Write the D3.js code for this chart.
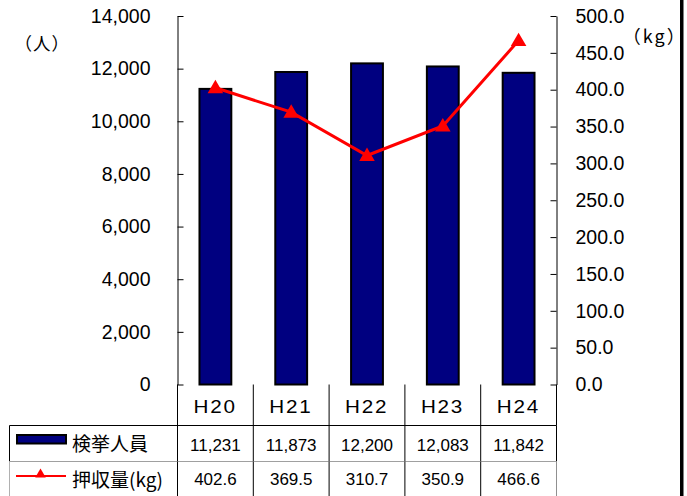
<!DOCTYPE html>
<html><head><meta charset="utf-8">
<script src="https://cdn.jsdelivr.net/npm/d3@7"></script>
<style>
html,body{margin:0;padding:0;background:#fff;}
svg{display:block;}
</style></head>
<body>
<svg id="chart" width="687" height="496"></svg>
<script>
// ---- data ----
const categories = ["H20", "H21", "H22", "H23", "H24"];
const arrests = [11231, 11873, 12200, 12083, 11842];       // 検挙人員 (人)
const seizures = [402.6, 369.5, 310.7, 350.9, 466.6];      // 押収量 (kg)
const leftTicks = [0, 2000, 4000, 6000, 8000, 10000, 12000, 14000];
const rightTicks = [0, 50, 100, 150, 200, 250, 300, 350, 400, 450, 500];
const seriesNames = ["検挙人員", "押収量(kg)"];
const unitLeft = "（人）";
const unitRight = "（kg）";

// ---- layout ----
const svg = d3.select("#chart");
const L = 177.5, R = 556.5, T = 16, B = 384.5;
const tableLeft = 9.5, row1B = 425.5, row2B = 461.5, H = 496;
const latin = "'Liberation Sans', Arial, sans-serif";
const cjk = "'Noto Sans CJK JP', sans-serif";

const x = d3.scaleBand().domain(categories).range([L, R]).padding(0);
const yL = d3.scaleLinear().domain([0, 14000]).range([B, T]);
const yR = d3.scaleLinear().domain([0, 500]).range([B, T]);
const barW = x.bandwidth() * 0.42;

// right black border
svg.append("rect").attr("x", 680).attr("y", 0).attr("width", 3.5).attr("height", H).attr("fill", "#000");

// bars
svg.append("g").selectAll("rect").data(arrests).join("rect")
  .attr("x", (d, i) => x(categories[i]) + x.bandwidth() / 2 - barW / 2)
  .attr("y", d => yL(d))
  .attr("width", barW)
  .attr("height", d => B - yL(d))
  .attr("fill", "#000080")
  .attr("stroke", "#000")
  .attr("stroke-width", 2);

// axes
const axL = svg.append("g").attr("transform", `translate(${L},0)`)
  .call(d3.axisLeft(yL).tickValues(leftTicks).tickFormat(d3.format(",")).tickSizeInner(-6).tickSizeOuter(0).tickPadding(27));
const axR = svg.append("g").attr("transform", `translate(${R},0)`)
  .call(d3.axisRight(yR).tickValues(rightTicks).tickFormat(d3.format(".1f")).tickSizeInner(-6).tickSizeOuter(0).tickPadding(19));
[axL, axR].forEach(a => {
  a.selectAll("path,line").attr("stroke", "#000").attr("stroke-width", 1);
  a.selectAll("text").attr("font-family", latin).attr("font-size", 19.5).attr("fill", "#000");
});

// line series
const cx = (i) => x(categories[i]) + x.bandwidth() / 2;
svg.append("path")
  .datum(seizures)
  .attr("d", d3.line().x((d, i) => cx(i)).y(d => yR(d)))
  .attr("fill", "none").attr("stroke", "#ff0000").attr("stroke-width", 3);
svg.append("g").selectAll("path").data(seizures).join("path")
  .attr("transform", (d, i) => `translate(${cx(i)},${yR(d) + 1})`)
  .attr("d", d3.symbol(d3.symbolTriangle, 105))
  .attr("fill", "#ff0000");

// unit labels
svg.append("text").attr("x", 14.5).attr("y", 49.5).attr("font-family", cjk).attr("font-size", 17.5)
  .attr("letter-spacing", 1).text(unitLeft);
svg.append("text").attr("x", 622.8).attr("y", 43).attr("font-family", cjk).attr("font-size", 18)
  .attr("letter-spacing", 2).text(unitRight);

// ---- data table ----
const g = svg.append("g");
const bounds = categories.map(c => x(c)).concat([R]);
// category row verticals
bounds.forEach(b => g.append("line").attr("x1", b).attr("x2", b).attr("y1", B).attr("y2", row1B).attr("stroke", "#000"));
// row 2 lines
g.append("line").attr("x1", tableLeft).attr("x2", R).attr("y1", row1B).attr("y2", row1B).attr("stroke", "#000");
g.append("line").attr("x1", tableLeft).attr("x2", tableLeft).attr("y1", row1B).attr("y2", row2B).attr("stroke", "#000");
bounds.forEach(b => g.append("line").attr("x1", b).attr("x2", b).attr("y1", row1B).attr("y2", row2B).attr("stroke", "#000"));
// row 3 lines
g.append("line").attr("x1", tableLeft).attr("x2", R).attr("y1", row2B).attr("y2", row2B).attr("stroke", "#a0a0a0");
g.append("line").attr("x1", tableLeft).attr("x2", tableLeft).attr("y1", row2B).attr("y2", H).attr("stroke", "#b0b0b0");
bounds.forEach((b, i) => g.append("line").attr("x1", b).attr("x2", b).attr("y1", row2B).attr("y2", H)
  .attr("stroke", i === bounds.length - 1 ? "#909090" : "#000"));

// category labels
g.selectAll("text.cat").data(categories).join("text").attr("class", "cat")
  .attr("transform", d => `translate(${x(d) + x.bandwidth() / 2 - 0.3},412.7) scale(1.18,1)`)
  .attr("text-anchor", "middle")
  .attr("font-family", latin).attr("font-size", 17.5)
  .attr("letter-spacing", 1.5)
  .text(d => d);
// values
g.selectAll("text.v1").data(arrests).join("text").attr("class", "v1")
  .attr("x", (d, i) => cx(i)).attr("y", 450.8)
  .attr("text-anchor", "middle").attr("font-family", latin).attr("font-size", 17)
  .text(d => d3.format(",")(d));
g.selectAll("text.v2").data(seizures).join("text").attr("class", "v2")
  .attr("x", (d, i) => cx(i)).attr("y", 484.5)
  .attr("text-anchor", "middle").attr("font-family", latin).attr("font-size", 17)
  .text(d => d3.format(".1f")(d));

// legend keys
g.append("rect").attr("x", 17).attr("y", 435).attr("width", 49).attr("height", 8.5)
  .attr("fill", "#000080").attr("stroke", "#000").attr("stroke-width", 2);
g.append("line").attr("x1", 16).attr("x2", 66).attr("y1", 476).attr("y2", 476).attr("stroke", "#ff0000").attr("stroke-width", 2);
g.append("path").attr("transform", "translate(40.5,474.5)").attr("d", d3.symbol(d3.symbolTriangle, 48)).attr("fill", "#ff0000");
g.append("text").attr("x", 72).attr("y", 450.5).attr("font-family", cjk).attr("font-size", 19).text(seriesNames[0]);
g.append("text").attr("x", 72).attr("y", 486.5).attr("font-family", cjk).attr("font-size", 19).text(seriesNames[1]);
</script>
</body></html>
